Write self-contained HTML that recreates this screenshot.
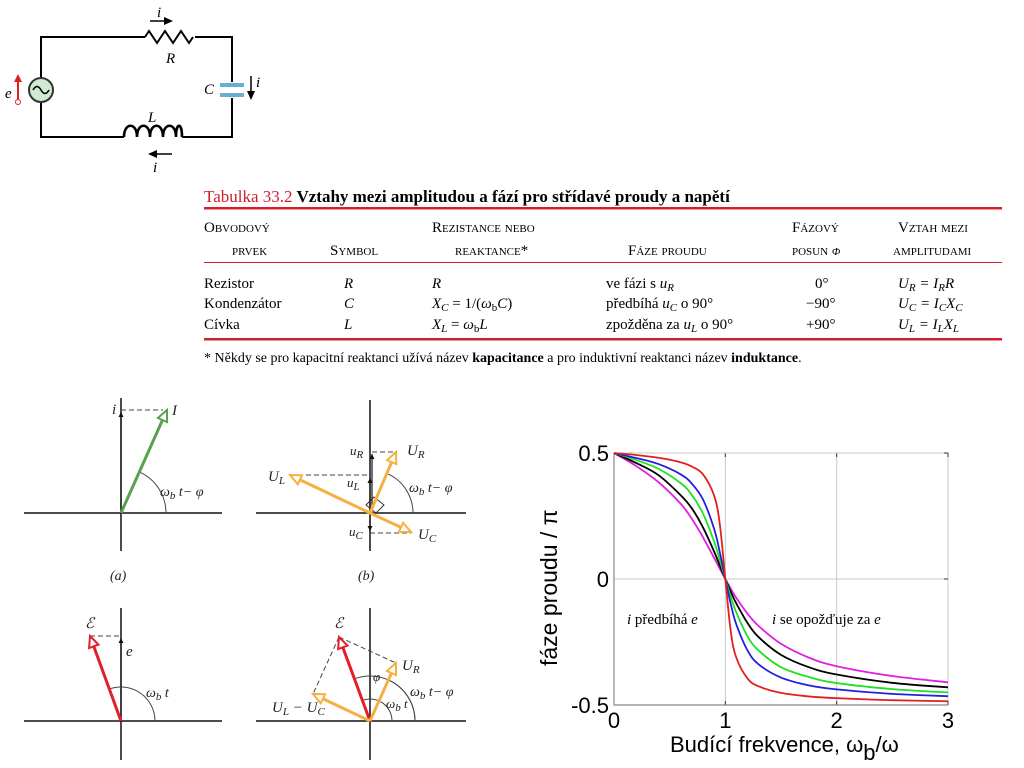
<!DOCTYPE html>
<html><head><meta charset="utf-8"><style>
body{margin:0;background:#fff;}
svg{display:block;font-family:"Liberation Serif",serif;}
.sc{font-variant:small-caps;font-size:15px;}
.t{font-size:15px;}
.ax{font-family:"Liberation Sans",sans-serif;}
</style></head><body>
<svg id="s" width="1024" height="768" viewBox="0 0 1024 768">
<!-- Circuit -->
<g stroke="#000" stroke-width="2" fill="none">
<path d="M41,78 V37 H145 M195,37 H232 V82 M232,98 V137 H182 M124,137 H41 V102"/>
<path d="M145,37 l4,-6 l8,12 l8,-12 l8,12 l8,-12 l8,12 l4,-6"/>
<path d="M124,137 c0,-15 13,-15 13,0 c0,-15 13,-15 13,0 c0,-15 13,-15 13,0 c0,-15 13,-15 13,0 c0,-15 6,-15 6,0" stroke-width="2.6"/>
<circle cx="41" cy="90" r="12" fill="#cfe9d3" stroke="#333"/>
<path d="M33,90 q4,-7 8,0 q4,7 8,0" stroke-width="1.5"/>
</g>
<rect x="220" y="83" width="24" height="4" fill="#6aaed0"/>
<rect x="220" y="93" width="24" height="4" fill="#6aaed0"/>
<g fill="#000">
<text x="157" y="17" font-style="italic" class="t">i</text>
<line x1="150" y1="21" x2="165" y2="21" stroke="#000" stroke-width="1.5"/><path d="M173,21 l-9,-4 v8 z"/>
<text x="166" y="63" font-style="italic" class="t">R</text>
<text x="204" y="94" font-style="italic" class="t">C</text>
<text x="256" y="87" font-style="italic" class="t">i</text>
<line x1="251" y1="76" x2="251" y2="92" stroke="#000" stroke-width="1.5"/><path d="M251,100 l-4,-9 h8 z"/>
<text x="148" y="122" font-style="italic" class="t">L</text>
<line x1="172" y1="154" x2="156" y2="154" stroke="#000" stroke-width="1.5"/><path d="M148,154 l9,-4 v8 z"/>
<text x="153" y="172" font-style="italic" class="t">i</text>
<text x="5" y="98" font-style="italic" class="t">e</text>
<path d="M18,100 V80" stroke="#e02020" stroke-width="2"/><path d="M14,82 l4,-8 l4,8 z" fill="#e02020"/>
<circle cx="18" cy="102" r="2.5" fill="#fff" stroke="#e02020"/>
</g>
<!-- Table -->
<g>
<text x="204" y="202" font-size="17"><tspan fill="#d0202a">Tabulka 33.2</tspan><tspan font-weight="bold">  Vztahy mezi amplitudou a fází pro střídavé proudy a napětí</tspan></text>
<rect x="204" y="207" width="798" height="2.5" fill="#d0202a"/>
<text class="sc" x="204" y="232">Obvodový</text><text class="sc" x="232" y="255">prvek</text>
<text class="sc" x="330" y="255">Symbol</text>
<text class="sc" x="432" y="232">Rezistance nebo</text><text class="sc" x="455" y="255">reaktance*</text>
<text class="sc" x="628" y="255">Fáze proudu</text>
<text class="sc" x="792" y="232">Fázový</text><text class="sc" x="792" y="255">posun <tspan font-style="italic">φ</tspan></text>
<text class="sc" x="898" y="232">Vztah mezi</text><text class="sc" x="893" y="255">amplitudami</text>
<rect x="204" y="262" width="798" height="1" fill="#d0202a"/>
<g class="t">
<text x="204" y="288">Rezistor</text><text x="344" y="288" font-style="italic">R</text><text x="432" y="288" font-style="italic">R</text><text x="606" y="288">ve fázi s <tspan font-style="italic">u<tspan font-size="11" dy="3">R</tspan></tspan></text><text x="815" y="288">0°</text><text x="898" y="288" font-style="italic">U<tspan font-size="11" dy="3">R</tspan><tspan dy="-3"> = I</tspan><tspan font-size="11" dy="3">R</tspan><tspan dy="-3">R</tspan></text>
<text x="204" y="308">Kondenzátor</text><text x="344" y="308" font-style="italic">C</text><text x="432" y="308"><tspan font-style="italic">X</tspan><tspan font-size="11" dy="3" font-style="italic">C</tspan><tspan dy="-3"> = 1/(<tspan font-style="italic">ω</tspan><tspan font-size="11" dy="3">b</tspan><tspan dy="-3" font-style="italic">C</tspan>)</tspan></text><text x="606" y="308">předbíhá <tspan font-style="italic">u<tspan font-size="11" dy="3">C</tspan></tspan><tspan dy="-3"> o 90°</tspan></text><text x="806" y="308">−90°</text><text x="898" y="308" font-style="italic">U<tspan font-size="11" dy="3">C</tspan><tspan dy="-3"> = I</tspan><tspan font-size="11" dy="3">C</tspan><tspan dy="-3">X</tspan><tspan font-size="11" dy="3">C</tspan></text>
<text x="204" y="329">Cívka</text><text x="344" y="329" font-style="italic">L</text><text x="432" y="329"><tspan font-style="italic">X</tspan><tspan font-size="11" dy="3" font-style="italic">L</tspan><tspan dy="-3"> = </tspan><tspan font-style="italic">ω</tspan><tspan font-size="11" dy="3">b</tspan><tspan dy="-3" font-style="italic">L</tspan></text><text x="606" y="329">zpožděna za <tspan font-style="italic">u<tspan font-size="11" dy="3">L</tspan></tspan><tspan dy="-3"> o 90°</tspan></text><text x="806" y="329">+90°</text><text x="898" y="329" font-style="italic">U<tspan font-size="11" dy="3">L</tspan><tspan dy="-3"> = I</tspan><tspan font-size="11" dy="3">L</tspan><tspan dy="-3">X</tspan><tspan font-size="11" dy="3">L</tspan></text>
</g>
<rect x="204" y="338" width="798" height="2.5" fill="#d0202a"/>
<text x="204" y="362" font-size="14">* Někdy se pro kapacitní reaktanci užívá název <tspan font-weight="bold">kapacitance</tspan> a pro induktivní reaktanci název <tspan font-weight="bold">induktance</tspan>.</text>
</g>
<g id="phasors"></g>
<g id="chart"></g>
</svg>
<script>
const NS='http://www.w3.org/2000/svg';
function mk(p,tag,at,txt){const e=document.createElementNS(NS,tag);for(const k in at)e.setAttribute(k,at[k]);if(txt!==undefined)e.textContent=txt;p.appendChild(e);return e;}
// ---------- phasors ----------
const P=document.getElementById('phasors');
function axes(ox,oy,x1,x2,y1,y2){mk(P,'path',{d:`M${x1},${oy}H${x2}M${ox},${y1}V${y2}`,stroke:'#111','stroke-width':1.5,fill:'none'});}
function arrow(x1,y1,x2,y2,c,w){const a=Math.atan2(y2-y1,x2-x1),L=11,H=5;const bx=x2-L*Math.cos(a),by=y2-L*Math.sin(a);
mk(P,'line',{x1,y1,x2:bx,y2:by,stroke:c,'stroke-width':w||3});
mk(P,'polygon',{points:`${x2},${y2} ${bx-H*Math.sin(a)},${by+H*Math.cos(a)} ${bx+H*Math.sin(a)},${by-H*Math.cos(a)}`,fill:'#fff',stroke:c,'stroke-width':2});}
function dash(x1,y1,x2,y2){mk(P,'line',{x1,y1,x2,y2,stroke:'#444','stroke-width':1,'stroke-dasharray':'5,3'});}
function arc(ox,oy,r,x,y){const a=Math.atan2(oy-y,x-ox);mk(P,'path',{d:`M${ox+r},${oy}A${r},${r} 0 0 0 ${ox+r*Math.cos(a)},${oy-r*Math.sin(a)}`,fill:'none',stroke:'#444','stroke-width':1});}
function lab(x,y,h,s){const e=mk(P,'text',{x,y,'font-size':s||15,'font-style':'italic',fill:'#222'});e.innerHTML=h;}
const sub=t=>`<tspan font-size="11" dy="3">${t}</tspan><tspan dy="-3"> </tspan>`;
const wbt='ω'+sub('b')+'t';
function small(x1,y1,x2,y2){mk(P,'line',{x1,y1,x2,y2,stroke:'#111','stroke-width':1.2});mk(P,'polygon',{points:`${x2},${y2} ${x2-2.5},${y2+(y2<y1?5:-5)} ${x2+2.5},${y2+(y2<y1?5:-5)}`,fill:'#111'});}
// (a)
axes(121,513,24,222,398,551);dash(121,410,163,410);small(121,513,121,412);arc(121,513,45,167,410);
arrow(121,513,167,410,'#5aa050');lab(112,414,'i');lab(172,415,'I');lab(160,496,wbt+'− φ',14);lab(110,580,'(a)',14);
// (b)
axes(370,513,256,466,400,551);dash(372,452,396,452);dash(290,475,370,475);dash(370,533,411,533);
arc(370,513,43,396,452);
mk(P,'path',{d:'M366,505 l8,-8 l10,8 l-8,8 z',fill:'none',stroke:'#333','stroke-width':1});
small(372,513,372,454);small(370,513,370,478);small(370,513,370,531);
arrow(370,513,396,452,'#f5b040');arrow(370,513,290,475,'#f5b040');arrow(370,513,411,532,'#f5b040');
lab(350,455,'u'+sub('R'),13);lab(407,455,'U'+sub('R'));lab(268,481,'U'+sub('L'));lab(347,487,'u'+sub('L'),13);lab(409,492,wbt+'− φ',14);lab(349,536,'u'+sub('C'),13);lab(418,539,'U'+sub('C'));lab(358,580,'(b)',14);
// (c)
axes(121,721,24,222,608,760);dash(90,636,121,636);small(121,721,121,638);arc(121,721,34,90,636);
arrow(121,721,90,636,'#e0202a');lab(85,628,'ℰ');lab(126,656,'e');lab(146,697,wbt,14);
// (d)
axes(370,721,256,466,608,760);dash(339,637,396,663);dash(339,637,313,694);
arc(370,721,45,396,663);arc(370,721,22,339,637);arc(370,721,45,339,637);
arrow(370,721,339,637,'#e0202a');arrow(370,721,396,663,'#f5b040');arrow(370,721,313,694,'#f5b040');
lab(334,628,'ℰ');lab(402,670,'U'+sub('R'));lab(373,681,'φ',13);lab(410,696,wbt+'− φ',14);lab(386,708,wbt,13);lab(272,712,'U'+sub('L')+'− U'+sub('C'));
// ---------- chart ----------
const xs=[0,0.2,0.4,0.6,0.7,0.8,0.9,0.95,1,1.05,1.1,1.2,1.3,1.5,1.75,2,2.5,3];
const sMagenta=[0.5,0.448,0.384,0.298,0.238,0.165,0.083,0.041,0,-0.039,-0.076,-0.138,-0.187,-0.257,-0.312,-0.346,-0.385,-0.410];
const sBlack=[0.5,0.460,0.412,0.332,0.280,0.204,0.108,0.054,0,-0.052,-0.098,-0.175,-0.231,-0.301,-0.350,-0.379,-0.412,-0.430];
const sGreen=[0.5,0.472,0.437,0.380,0.333,0.259,0.148,0.076,0,-0.072,-0.134,-0.228,-0.284,-0.350,-0.389,-0.413,-0.437,-0.450];
const sBlue=[0.5,0.480,0.456,0.415,0.378,0.315,0.198,0.107,0,-0.102,-0.182,-0.284,-0.339,-0.391,-0.422,-0.438,-0.456,-0.465];
const sRed=[0.5,0.492,0.481,0.463,0.446,0.415,0.330,0.219,0,-0.212,-0.314,-0.395,-0.426,-0.452,-0.466,-0.473,-0.481,-0.485];
const xTicks=[0,1,2,3];const yTicks=[-0.5,0,0.5];const yTickLabels=['-0.5','0','0.5'];
const C=document.getElementById('chart');
const X=v=>614+v*(948-614)/3, Y=v=>579-v*252;
for(const t of xTicks){if(t>0)mk(C,'line',{x1:X(t),y1:Y(0.5),x2:X(t),y2:Y(-0.5),stroke:'#c8c8c8','stroke-width':1});
const e=mk(C,'text',{x:X(t),y:728,'text-anchor':'middle','font-size':22,class:'ax'},String(t));
mk(C,'line',{x1:X(t),y1:Y(-0.5),x2:X(t),y2:Y(-0.5)-4,stroke:'#333'});mk(C,'line',{x1:X(t),y1:Y(0.5),x2:X(t),y2:Y(0.5)+4,stroke:'#333'});}
yTicks.forEach((t,i)=>{mk(C,'line',{x1:X(0),y1:Y(t),x2:X(3),y2:Y(t),stroke:'#c8c8c8','stroke-width':1});
const e=mk(C,'text',{x:609,y:Y(t)+8,'text-anchor':'end','font-size':22,class:'ax'},yTickLabels[i]);
mk(C,'line',{x1:X(3),y1:Y(t),x2:X(3)-4,y2:Y(t),stroke:'#333'});});
mk(C,'path',{d:`M${X(0)},${Y(0.5)}V${Y(-0.5)}H${X(3)}`,stroke:'#888','stroke-width':1.2,fill:'none'});
const series=[[sMagenta,'#e020e0','curve-magenta'],[sBlack,'#000','curve-black'],[sGreen,'#20e020','curve-green'],[sBlue,'#2020e0','curve-blue'],[sRed,'#e02020','curve-red']];
for(const [s,c,n] of series){
const pts=xs.map((x,i)=>[X(x),Y(s[i])]);let d=`M${pts[0][0]},${pts[0][1]}`;
for(let i=0;i<pts.length-1;i++){const p0=pts[Math.max(0,i-1)],p1=pts[i],p2=pts[i+1],p3=pts[Math.min(pts.length-1,i+2)];
d+=`C${p1[0]+(p2[0]-p0[0])/6},${p1[1]+(p2[1]-p0[1])/6} ${p2[0]-(p3[0]-p1[0])/6},${p2[1]-(p3[1]-p1[1])/6} ${p2[0]},${p2[1]}`;}
const e=mk(C,'path',{d,stroke:c,'stroke-width':1.8,fill:'none'});

}
let e=mk(C,'text',{transform:'translate(557,666) rotate(-90)','font-size':23,class:'ax'},'fáze proudu    / π');


e=mk(C,'text',{x:670,y:752,'font-size':22,class:'ax'});e.innerHTML='Budící frekvence, ω<tspan dy="8">b</tspan><tspan dy="-8">/ω</tspan>';


e=mk(C,'text',{x:627,y:624,'font-size':15});e.innerHTML='<tspan font-style="italic">i</tspan> předbíhá <tspan font-style="italic">e</tspan>';


e=mk(C,'text',{x:772,y:624,'font-size':15});e.innerHTML='<tspan font-style="italic">i</tspan> se opožďuje za <tspan font-style="italic">e</tspan>';


</script>
</body></html>
